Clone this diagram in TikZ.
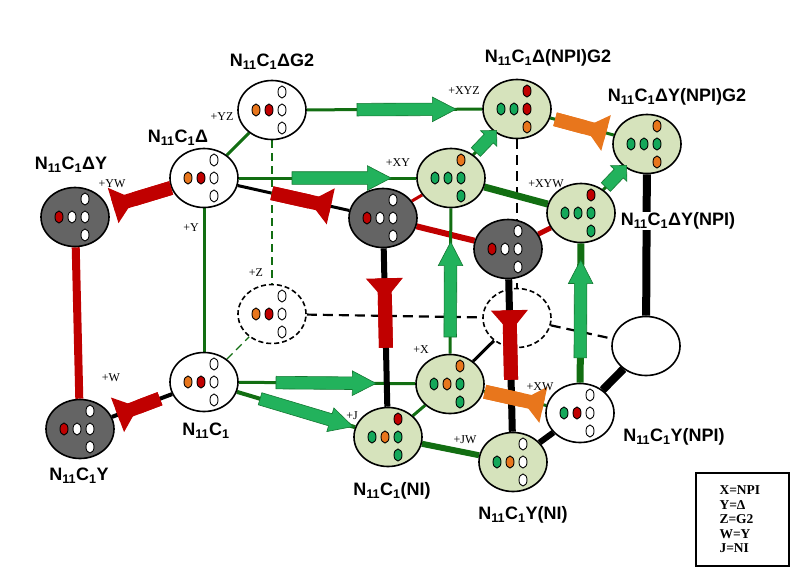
\documentclass[tikz,border=0pt]{standalone}
\usepackage{fontspec}
\setmainfont{Liberation Serif}
\newfontfamily\arialfont{Liberation Sans}
\usetikzlibrary{arrows.meta,shapes.geometric,shapes.arrows}

\definecolor{redc}{RGB}{192,0,0}
\definecolor{orangec}{RGB}{232,118,28}
\definecolor{seedgreen}{RGB}{20,168,90}
\definecolor{arrowgreen}{RGB}{34,178,92}
\definecolor{arrowedge}{RGB}{20,120,50}
\definecolor{linegreen}{RGB}{18,110,18}
\definecolor{cellgreen}{RGB}{214,227,188}
\definecolor{cellgrey}{RGB}{100,100,100}

\pgfdeclarelayer{background}
\pgfsetlayers{background,main}

\tikzset{
  flare/.style={draw=#1, line width=14pt,
    -{Triangle[reversed, length=22pt, width=37pt, line width=0pt, fill=#1]},
    preaction={draw=#1, line width=14pt, -}},
  flare/.default=redc
}

% seeds inside a cell: row of three, then top and bottom
\newcommand\seeds[6]{%
  \foreach \col/\dx/\dy in {#2/-16/0,#3/-3/0,#4/10/0,#5/10/-18,#6/10/18}
    \draw[seed, fill=\col] ([shift={(\dx,\dy)}]#1.center) ellipse [x radius=4, y radius=6];
}

\begin{document}
\begin{tikzpicture}[x=1pt, y=-1pt,
    cell/.style={ellipse, draw, line width=1.6pt, minimum width=68pt,
      minimum height=59pt, inner sep=0pt, fill=white},
    greycell/.style={cell, fill=cellgrey},
    greencell/.style={cell, fill=cellgreen},
    ghost/.style={cell, fill=none, dash pattern=on 5pt off 3pt},
    seed/.style={draw=black, line width=0.9pt},
    cellname/.style={font=\arialfont\bfseries\fontsize{18}{20}\selectfont, inner sep=1pt},
    addlabel/.style={font=\fontsize{12}{14}\selectfont, inner sep=0pt},
    gline/.style={draw=linegreen, line width=3pt},
    dashgreen/.style={draw=linegreen, line width=1.3pt, dash pattern=on 8pt off 5pt},
    blackline/.style={draw=black, line width=3pt},
    dashblack/.style={draw=black, line width=2.2pt, dash pattern=on 10pt off 6pt},
    redline/.style={draw=redc},
    garrow/.style={single arrow, draw=arrowedge, fill=arrowgreen, line width=0.6pt,
      inner xsep=0pt, inner ysep=6pt, single arrow head extend=6pt,
      single arrow tip angle=55, sloped, allow upside down},
    stub/.style={minimum height=30pt, single arrow head extend=5pt,
      single arrow tip angle=90},
    legend/.style={draw, line width=2.6pt, minimum width=93pt, minimum height=93pt,
      text width=46pt, align=left, inner sep=0pt,
      font=\bfseries\fontsize{13.5}{14.5}\selectfont}]
\useasboundingbox (0,0) rectangle (795,574);

% cells
\node[cell] (A) at (272,110) {};
\node[cell] (B) at (204,178) {};
\node[greycell] (C) at (75,217) {};
\node[ghost] (D) at (272,314) {};
\node[cell] (E) at (204,382) {};
\node[greycell] (F) at (80,429) {};
\node[greencell] (G) at (517,109) {};
\node[greencell] (H) at (647,144) {};
\node[greencell] (I) at (451,178) {};
\node[greycell] (J) at (383,218) {};
\node[greencell] (K) at (581,213) {};
\node[greycell] (L) at (508,249) {};
\node[ghost] (M) at (517,318) {};
\node[cell] (N) at (646,346) {};
\node[greencell] (O) at (450,384) {};
\node[greencell] (P) at (388,437) {};
\node[cell] (Q) at (580,413) {};
\node[greencell] (R) at (513,462) {};

\seeds{A}{orangec}{redc}{white}{white}{white}
\seeds{B}{orangec}{redc}{white}{white}{white}
\seeds{C}{redc}{white}{white}{white}{white}
\seeds{D}{orangec}{redc}{white}{white}{white}
\seeds{E}{orangec}{redc}{white}{white}{white}
\seeds{F}{redc}{white}{white}{white}{white}
\seeds{G}{seedgreen}{seedgreen}{redc}{redc}{orangec}
\seeds{H}{seedgreen}{seedgreen}{seedgreen}{orangec}{orangec}
\seeds{I}{seedgreen}{seedgreen}{seedgreen}{orangec}{seedgreen}
\seeds{J}{redc}{white}{white}{white}{white}
\seeds{K}{seedgreen}{seedgreen}{seedgreen}{redc}{seedgreen}
\seeds{L}{redc}{white}{white}{white}{white}
\seeds{O}{seedgreen}{orangec}{seedgreen}{orangec}{seedgreen}
\seeds{P}{seedgreen}{orangec}{seedgreen}{redc}{seedgreen}
\seeds{Q}{seedgreen}{redc}{white}{white}{white}
\seeds{R}{seedgreen}{orangec}{white}{white}{white}

% links
\begin{pgfonlayer}{background}
  \draw[gline] (A) -- (G);
  \draw[gline] (B) -- (A);
  \draw[gline] (B) -- (I);
  \draw[gline] (B) -- (E);
  \draw[blackline] (B) -- (J);
  \draw[dashgreen] (A) -- (D);
  \draw[dashgreen] (E) -- (D);
  \draw[redline, line width=8pt] (C) -- (F);
  \draw[blackline, line width=4pt] (E) -- (F);
  \draw[gline] (E) -- (O);
  \draw[gline, line width=4pt] (E) -- (P);
  \draw[dashblack] (D) -- (M);
  \draw[dashblack] (M) -- (N);
  \draw[dashblack] (G) -- (M);
  \draw[blackline, line width=6pt] (J) -- (P);
  \draw[blackline, line width=7pt] (L) -- (R);
  \draw[redline, line width=3pt] (I) -- (J);
  \draw[redline, line width=6pt] (J) -- (L);
  \draw[redline, line width=5pt] (L) -- (K);
  \draw[gline] (I) -- (G);
  \draw[gline, line width=7pt] (I) -- (K);
  \draw[gline] (K) -- (H);
  \draw[gline] (G) -- (H);
  \draw[blackline, line width=8pt] (H) -- (N);
  \draw[gline] (O) -- (I);
  \draw[gline, line width=7pt] (Q) -- (K);
  \draw[blackline] (O) -- (M);
  \draw[gline] (O) -- (Q);
  \draw[gline] (P) -- (O);
  \draw[gline, line width=6pt] (P) -- (R);
  \draw[blackline, line width=6pt] (R) -- (Q);
  \draw[blackline, line width=8pt] (Q) -- (N);
\end{pgfonlayer}

% blocking bars
\draw[flare, shorten >=5.5pt] (B) -- (C);
\draw[flare, shorten <=35pt, shorten >=19pt] (B) -- (J);
\draw[flare, shorten <=13pt, shorten >=6pt] (E) -- (F);
\draw[flare, shorten <=59pt, shorten >=30pt] (P) -- (J);
\draw[flare, shorten <=52pt, shorten >=31pt] (R) -- (L);
\draw[flare=orangec, shorten <=5pt, shorten >=8pt] (G) -- (H);
\draw[flare=orangec, shorten <=1pt, shorten >=3pt] (O) -- (Q);

% green block arrows
\path (A) -- node[garrow, pos=.534, minimum height=99pt] (aAG) {} (G);
\path (B) -- node[garrow, pos=.545, minimum height=99pt] (aBI) {} (I);
\path (E) -- node[garrow, pos=.46, minimum height=100pt] (aEO) {} (O);
\path (E) -- node[garrow, pos=.54, minimum height=97pt] (aEP) {} (P);
\path (O) -- node[garrow, pos=.40, minimum height=95pt] (aOI) {} (I);
\path (Q) -- node[garrow, pos=.486, minimum height=98pt] (aQK) {} (K);
\path (I) -- node[garrow, stub, pos=.5] (aIG) {} (G);
\path (K) -- node[garrow, stub, pos=.5] (aKH) {} (H);

% names
\node[cellname] (nA) at (272,62) {N\textsubscript{11}C\textsubscript{1}ΔG2};
\node[cellname] (nB) at (178,138) {N\textsubscript{11}C\textsubscript{1}Δ};
\node[cellname] (nC) at (71,165) {N\textsubscript{11}C\textsubscript{1}ΔY};
\node[cellname] (nE) at (206,431) {N\textsubscript{11}C\textsubscript{1}};
\node[cellname] (nF) at (79,476) {N\textsubscript{11}C\textsubscript{1}Y};
\node[cellname] (nG) at (548,58) {N\textsubscript{11}C\textsubscript{1}Δ(NPI)G2};
\node[cellname] (nH) at (677,97) {N\textsubscript{11}C\textsubscript{1}ΔY(NPI)G2};
\node[cellname, fill=white] (nK) at (678,221) {N\textsubscript{11}C\textsubscript{1}ΔY(NPI)};
\node[cellname] (nP) at (392,491) {N\textsubscript{11}C\textsubscript{1}(NI)};
\node[cellname] (nQ) at (674,437) {N\textsubscript{11}C\textsubscript{1}Y(NPI)};
\node[cellname] (nR) at (523,515) {N\textsubscript{11}C\textsubscript{1}Y(NI)};

% additions
\node[addlabel] (pYZ) at (222,117) {+YZ};
\node[addlabel] (pYW) at (112,184) {+YW};
\node[addlabel] (pY) at (191,228) {+Y};
\node[addlabel] (pZ) at (256,273) {+Z};
\node[addlabel] (pW) at (111,378) {+W};
\node[addlabel] (pXYZ) at (464,91) {+XYZ};
\node[addlabel] (pXY) at (398,163) {+XY};
\node[addlabel] (pXYW) at (546,184) {+XYW};
\node[addlabel] (pX) at (421,350) {+X};
\node[addlabel] (pJ) at (352,416) {+J};
\node[addlabel] (pJW) at (465,440) {+JW};
\node[addlabel] (pXW) at (540,387) {+XW};

\node[legend] (key) at (742.5,519.5) {X=NPI\\Y=Δ\\Z=G2\\W=Y\\J=NI};
\end{tikzpicture}
\end{document}
